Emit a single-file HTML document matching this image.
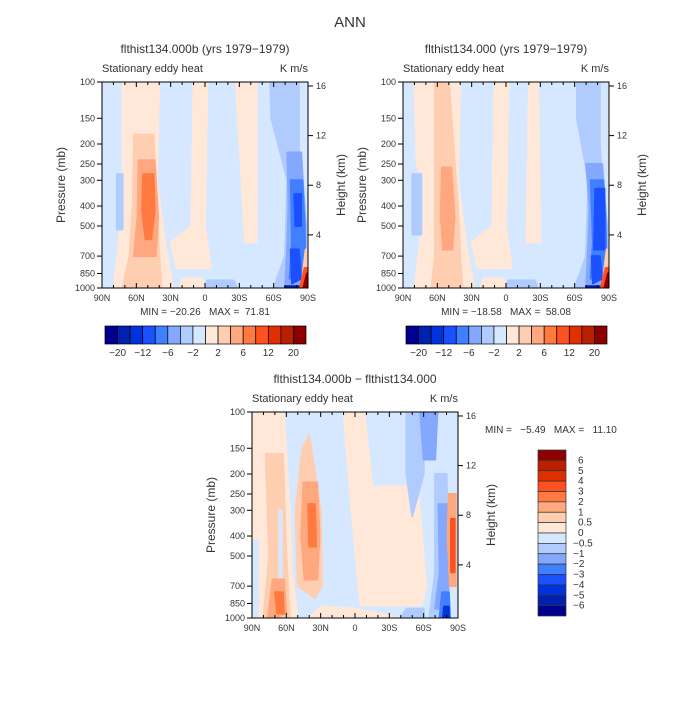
<!DOCTYPE html>
<html><head><meta charset="utf-8"><style>
html,body{margin:0;padding:0;background:#fff;}
svg text{font-family:"Liberation Sans",sans-serif;fill:#333;white-space:pre;}
</style></head><body>
<svg id="fig" width="700" height="700" viewBox="0 0 700 700" xmlns="http://www.w3.org/2000/svg">
<text x="350" y="27" font-size="15" text-anchor="middle" fill="#555">ANN</text>
</svg>
<script>
const colors=["#000090","#0020b0","#0033dd","#1a50ff","#4080ff","#85a8ff","#b0ccff","#d5e8ff","#ffe8d8","#ffcdb0","#ffa880","#ff7a40","#ff5020","#e03000","#b82000","#8b0000"];
const topLevels=["-20","","-12","","-6","","-2","","2","","6","","12","","20"];
const botLevels=["6","5","4","3","2","1","0.5","0","-0.5","-1","-2","-3","-4","-5","-6"];
const pTicks=[100,150,200,250,300,400,500,700,850,1000];
const latTicks=[90,60,30,0,-30,-60,-90];
const latLabels=["90N","60N","30N","0","30S","60S","90S"];
const hTicks=[16,12,8,4];
// contour regions: [colorIndex, [[lat,p],...]]
const shapesA=[
[8,[[72,100],[40,100],[42,300],[35,600],[28,1000],[80,1000],[75,600],[72,300]]],
[9,[[62,180],[45,180],[42,400],[40,700],[38,1000],[72,1000],[66,700],[63,400]]],
[10,[[58,240],[44,240],[41,450],[43,700],[62,700],[59,450]]],
[11,[[54,280],[45,280],[44,420],[47,580],[52,580],[55,420]]],
[8,[[10,100],[-2,100],[0,500],[-5,800],[25,800],[30,600],[12,500]]],
[8,[[-27,100],[-45,100],[-45,600],[-35,600]]],
[6,[[77,280],[72,280],[72,520],[77,520]]],
[8,[[20,900],[2,900],[0,1000],[22,1000]]],
[6,[[-2,920],[-25,920],[-28,1000],[0,1000]]],
[6,[[-57,100],[-82,100],[-82,200],[-88,700],[-88,1000],[-60,1000],[-70,700],[-72,300],[-58,150]]],
[5,[[-72,220],[-84,220],[-88,500],[-88,950],[-70,1000],[-72,600],[-73,400]]],
[4,[[-75,300],[-85,300],[-87,500],[-88,900],[-74,900],[-76,600]]],
[3,[[-78,350],[-84,350],[-84,500],[-79,500]]],
[3,[[-75,650],[-82,650],[-84,900],[-76,950]]],
[1,[[-70,980],[-85,980],[-85,1000],[-70,1000]]],
[9,[[-88,650],[-90,650],[-90,1000],[-84,1000]]],
[12,[[-87,800],[-90,800],[-90,1000],[-83,1000]]],
[15,[[-89,850],[-90,850],[-90,1000],[-86,1000]]]
];
const shapesB=[
[8,[[80,100],[40,100],[42,300],[35,600],[28,1000],[80,1000],[75,600],[72,300],[78,250]]],
[9,[[62,100],[50,100],[42,400],[40,700],[38,1000],[65,1000],[62,700],[62,400]]],
[10,[[56,260],[48,260],[45,450],[47,650],[55,650],[57,450]]],
[8,[[10,100],[-2,100],[0,500],[-5,800],[25,800],[30,600],[12,500]]],
[8,[[-20,100],[-28,100],[-30,600],[-18,600]]],
[6,[[82,280],[74,280],[74,550],[82,550]]],
[8,[[20,900],[2,900],[0,1000],[22,1000]]],
[6,[[-2,920],[-25,920],[-28,1000],[0,1000]]],
[6,[[-62,100],[-82,100],[-82,200],[-88,700],[-88,1000],[-60,1000],[-70,700],[-72,300],[-62,150]]],
[5,[[-70,250],[-84,250],[-88,500],[-88,950],[-70,1000],[-72,600],[-73,400]]],
[4,[[-74,300],[-85,300],[-87,500],[-88,900],[-74,900],[-76,600]]],
[3,[[-78,330],[-86,330],[-86,650],[-77,650]]],
[3,[[-75,700],[-82,700],[-84,900],[-76,950]]],
[1,[[-70,980],[-85,980],[-85,1000],[-70,1000]]],
[9,[[-88,650],[-90,650],[-90,1000],[-84,1000]]],
[12,[[-87,800],[-90,800],[-90,1000],[-83,1000]]],
[15,[[-89,850],[-90,850],[-90,1000],[-86,1000]]]
];
const shapesC=[
[8,[[90,100],[62,100],[58,250],[55,600],[50,1000],[90,1000]]],
[7,[[90,420],[85,420],[85,1000],[90,1000]]],
[9,[[78,160],[63,160],[60,500],[57,1000],[80,1000],[75,500]]],
[7,[[66,300],[64,300],[64,650],[66,650]]],
[9,[[46,150],[40,130],[30,300],[29,700],[35,800],[50,700],[52,300]]],
[10,[[45,220],[33,220],[31,400],[33,650],[44,650],[47,400]]],
[11,[[41,280],[35,280],[34,450],[40,450]]],
[10,[[72,650],[62,650],[60,950],[70,1000],[76,1000]]],
[11,[[70,750],[63,750],[62,950],[68,950]]],
[8,[[10,100],[-8,100],[-15,230],[-55,230],[-62,700],[-58,870],[-5,870],[-2,600],[3,300]]],
[8,[[30,880],[0,900],[-40,1000],[40,1000]]],
[6,[[-45,100],[-60,100],[-60,200],[-50,320],[-45,200]]],
[5,[[-57,100],[-72,100],[-70,170],[-60,170]]],
[6,[[-70,200],[-80,200],[-82,1000],[-65,1000],[-70,600]]],
[6,[[-45,900],[-60,900],[-60,1000],[-40,1000]]],
[5,[[-73,280],[-80,280],[-82,900],[-70,900],[-74,600]]],
[4,[[-76,750],[-82,750],[-83,1000],[-74,1000]]],
[2,[[-78,880],[-82,880],[-82,990],[-77,990]]],
[10,[[-82,250],[-88,250],[-88,700],[-83,700],[-81,400]]],
[12,[[-84,330],[-87,330],[-87,600],[-84,600]]]
];
const NS="http://www.w3.org/2000/svg";
const svg=document.getElementById('fig');
function mk(tag,attrs,parent){const e=document.createElementNS(NS,tag);for(const k in attrs)e.setAttribute(k,attrs[k]);(parent||svg).appendChild(e);return e;}
function txt(s,x,y,size,anchor,parent){const t=mk('text',{x:x,y:y,'font-size':size,'text-anchor':anchor||'middle'},parent);t.textContent=s;return t;}

function panel(px,py,W,H,shapes,title,minmax,name){
  const g=mk('g',{});
  
  
  const xs=lat=>px+(90-lat)/180*W;
  const ys=p=>py+Math.log10(p/100)*H;
  const clip='clip-'+name;
  const cp=mk('clipPath',{id:clip},g);mk('rect',{x:px,y:py,width:W,height:H},cp);
  const bg=mk('rect',{x:px,y:py,width:W,height:H,fill:colors[7]},g);
  
  
  const cg=mk('g',{'clip-path':'url(#'+clip+')'},g);
  shapes.forEach(s=>{
    const pts=s[1].map(q=>xs(q[0]).toFixed(1)+','+ys(q[1]).toFixed(1)).join(' ');
    const el=mk('polygon',{points:pts,fill:colors[s[0]],stroke:colors[s[0]],'stroke-width':2,'stroke-linejoin':'round'},cg);
    
    
  });
  const fr=mk('rect',{x:px,y:py,width:W,height:H,fill:'none',stroke:'#000','stroke-width':1},g);
  
  
  for(let l=90;l>=-90;l-=10){
    const major=l%30===0;const L=major?5:3;
    mk('line',{x1:xs(l),y1:py+H,x2:xs(l),y2:py+H-L,stroke:'#000'},g);
    mk('line',{x1:xs(l),y1:py,x2:xs(l),y2:py+L,stroke:'#000'},g);
  }
  latTicks.forEach((l,i)=>{const t=txt(latLabels[i],xs(l),py+H+13,9,'middle',g);
    
    });
  pTicks.forEach(p=>{mk('line',{x1:px-5,y1:ys(p),x2:px,y2:ys(p),stroke:'#000'},g);
    const t=txt(String(p),px-7,ys(p)+3,9,'end',g);
    
    });
  hTicks.forEach(h=>{const yy=py+H*(1-(h+0.28)/16.6);mk('line',{x1:px+W,y1:yy,x2:px+W+5,y2:yy,stroke:'#000'},g);
    const t=txt(String(h),px+W+8,yy+3,9,'start',g);
    
    });
  let t=txt(title,px+W/2,py-29,12,'middle',g);
  
  
  t=txt('Stationary eddy heat',px,py-10,11,'start',g);
  
  
  t=txt('K m/s',px+W,py-10,11,'end',g);
  
  
  t=txt('Pressure (mb)',0,0,12,'middle',g);t.setAttribute('transform','translate('+(px-37)+','+(py+H/2)+') rotate(-90)');
  
  
  t=txt('Height (km)',0,0,12,'middle',g);t.setAttribute('transform','translate('+(px+W+37)+','+(py+H/2)+') rotate(-90)');
  
  
  if(minmax){t=txt(minmax,px+W/2,py+H+27,10,'middle',g);
    
    }
}
function hbar(x,y,w,h,name){
  const g=mk('g',{});
  
  
  const bw=w/colors.length;
  colors.forEach((c,i)=>{const r=mk('rect',{x:x+i*bw,y:y,width:bw,height:h,fill:c,stroke:'#000','stroke-width':0.7},g);
    
    });
  topLevels.forEach((s,i)=>{if(!s)return;const t=txt(s.replace('-','\u2212'),x+(i+1)*bw,y+h+12,10,'middle',g);
    
    });
}
panel(102,82,206,206,shapesA,'flthist134.000b (yrs 1979\u22121979)','MIN = \u221220.26   MAX =  71.81','panel-case-b');
hbar(105,326,201,18,'colorbar-left');
panel(403,82,206,206,shapesB,'flthist134.000 (yrs 1979\u22121979)','MIN = \u221218.58   MAX =  58.08','panel-case');
hbar(406,326,201,18,'colorbar-right');
panel(252,412,206,206,shapesC,'flthist134.000b \u2212 flthist134.000',null,'panel-difference');
let mm=txt('MIN =   \u22125.49   MAX =   11.10',485,433,10,'start');


(function(){
  const g=mk('g',{});
  
  
  const x=538,y=450,w=28,h=166,bh=h/colors.length;
  colors.slice().reverse().forEach((c,i)=>{const r=mk('rect',{x:x,y:y+i*bh,width:w,height:bh,fill:c,stroke:'#333','stroke-width':0.7},g);
    
    });
  botLevels.forEach((s,i)=>{const t=txt(s.replace('-','\u2212'),s[0]==='-'?573:578,y+(i+1)*bh+3,10,'start',g);
    
    });
})();
</script>
</body></html>
